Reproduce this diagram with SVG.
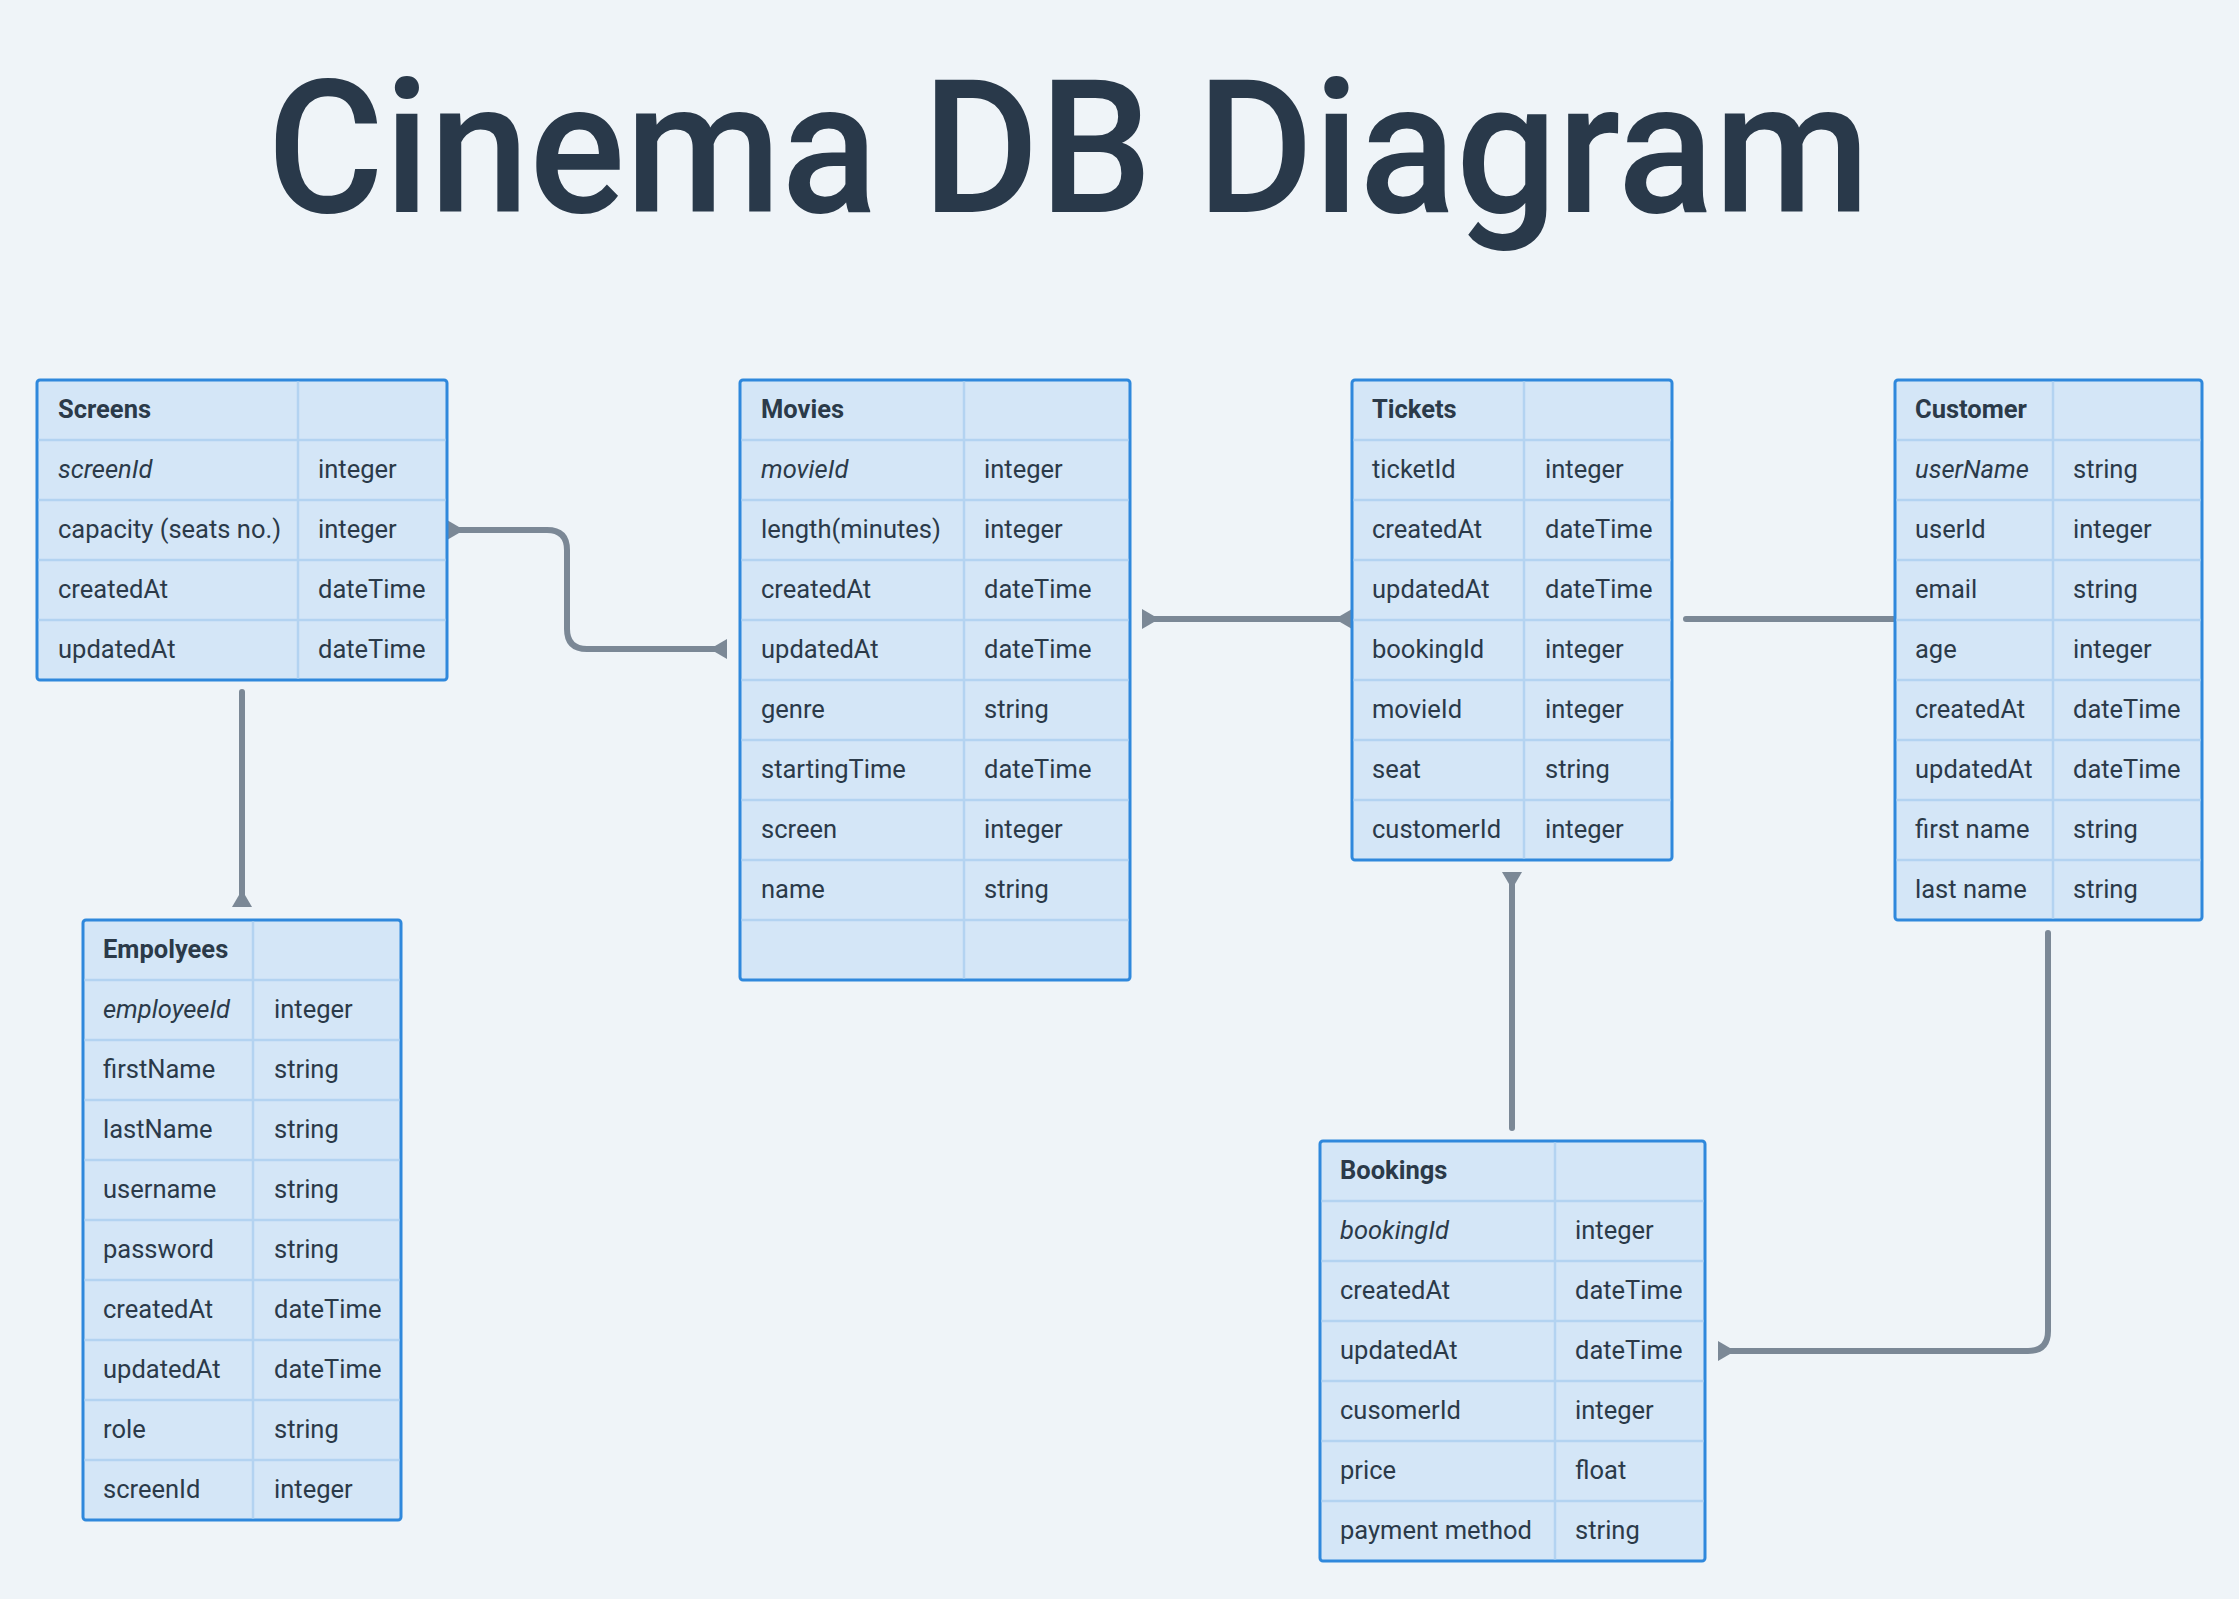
<svg xmlns="http://www.w3.org/2000/svg" width="2239" height="1599" viewBox="0 0 2239 1599">
<defs>
<style>
.bg{fill:#eff4f8}
.tbl{fill:#d4e6f7;stroke:#2f88dc;stroke-width:3}
.grid{stroke:#b3d3f1;stroke-width:2.5;fill:none}
.t{font-family:Roboto,"Liberation Sans",sans-serif;font-size:25.5px;fill:#2b3a49}
.h{font-weight:bold}
.i{font-style:italic}
.title{font-family:Roboto,"Liberation Sans",sans-serif;font-size:186px;font-weight:500;fill:#29394a}
.con{fill:none;stroke:#7b8896;stroke-width:6;stroke-linecap:round;stroke-linejoin:round}
</style>
<marker id="flare" markerUnits="userSpaceOnUse" viewBox="-14 -14 28 28" refX="0" refY="0" markerWidth="28" markerHeight="28" orient="auto-start-reverse" overflow="visible">
<path d="M3,-10 L3,10 L-9,3 L-9,-3 Z" fill="#7b8896"/>
</marker>
</defs>
<rect class="bg" x="0" y="0" width="2239" height="1599"/>
<text class="title" x="267" y="212" textLength="1603" lengthAdjust="spacingAndGlyphs">Cinema DB Diagram</text>

<g id="connectors">
<path class="con" d="M450,530 H547 Q567,530 567,550 V629 Q567,649 587,649 H724" marker-start="url(#flare)" marker-end="url(#flare)"/>
<path class="con" d="M1145,619 H1349" marker-start="url(#flare)" marker-end="url(#flare)"/>
<path class="con" d="M1686,619 H1896"/>
<path class="con" d="M242,692 V904" marker-end="url(#flare)"/>
<path class="con" d="M1512,875 V1128" marker-start="url(#flare)"/>
<path class="con" d="M2048,933 V1331 Q2048,1351 2028,1351 H1721" marker-end="url(#flare)"/>
</g>

<g id="screens">
<rect class="tbl" x="37" y="380" width="410" height="300" rx="3"/>
<path class="grid" d="M38.5,440 H445.5 M38.5,500 H445.5 M38.5,560 H445.5 M38.5,620 H445.5 M298,381.5 V678.5"/>
<text class="t h" x="58" y="418">Screens</text>
<text class="t i" x="58" y="478">screenId</text><text class="t" x="318" y="478">integer</text>
<text class="t" x="58" y="538">capacity (seats no.)</text><text class="t" x="318" y="538">integer</text>
<text class="t" x="58" y="598">createdAt</text><text class="t" x="318" y="598">dateTime</text>
<text class="t" x="58" y="658">updatedAt</text><text class="t" x="318" y="658">dateTime</text>
</g>

<g id="movies">
<rect class="tbl" x="740" y="380" width="390" height="600" rx="3"/>
<path class="grid" d="M741.5,440 H1128.5 M741.5,500 H1128.5 M741.5,560 H1128.5 M741.5,620 H1128.5 M741.5,680 H1128.5 M741.5,740 H1128.5 M741.5,800 H1128.5 M741.5,860 H1128.5 M741.5,920 H1128.5 M964,381.5 V978.5"/>
<text class="t h" x="761" y="418">Movies</text>
<text class="t i" x="761" y="478">movieId</text><text class="t" x="984" y="478">integer</text>
<text class="t" x="761" y="538">length(minutes)</text><text class="t" x="984" y="538">integer</text>
<text class="t" x="761" y="598">createdAt</text><text class="t" x="984" y="598">dateTime</text>
<text class="t" x="761" y="658">updatedAt</text><text class="t" x="984" y="658">dateTime</text>
<text class="t" x="761" y="718">genre</text><text class="t" x="984" y="718">string</text>
<text class="t" x="761" y="778">startingTime</text><text class="t" x="984" y="778">dateTime</text>
<text class="t" x="761" y="838">screen</text><text class="t" x="984" y="838">integer</text>
<text class="t" x="761" y="898">name</text><text class="t" x="984" y="898">string</text>
</g>

<g id="tickets">
<rect class="tbl" x="1352" y="380" width="320" height="480" rx="3"/>
<path class="grid" d="M1353.5,440 H1670.5 M1353.5,500 H1670.5 M1353.5,560 H1670.5 M1353.5,620 H1670.5 M1353.5,680 H1670.5 M1353.5,740 H1670.5 M1353.5,800 H1670.5 M1524,381.5 V858.5"/>
<text class="t h" x="1372" y="418">Tickets</text>
<text class="t" x="1372" y="478">ticketId</text><text class="t" x="1545" y="478">integer</text>
<text class="t" x="1372" y="538">createdAt</text><text class="t" x="1545" y="538">dateTime</text>
<text class="t" x="1372" y="598">updatedAt</text><text class="t" x="1545" y="598">dateTime</text>
<text class="t" x="1372" y="658">bookingId</text><text class="t" x="1545" y="658">integer</text>
<text class="t" x="1372" y="718">movieId</text><text class="t" x="1545" y="718">integer</text>
<text class="t" x="1372" y="778">seat</text><text class="t" x="1545" y="778">string</text>
<text class="t" x="1372" y="838">customerId</text><text class="t" x="1545" y="838">integer</text>
</g>

<g id="customer">
<rect class="tbl" x="1895" y="380" width="307" height="540" rx="3"/>
<path class="grid" d="M1896.5,440 H2200.5 M1896.5,500 H2200.5 M1896.5,560 H2200.5 M1896.5,620 H2200.5 M1896.5,680 H2200.5 M1896.5,740 H2200.5 M1896.5,800 H2200.5 M1896.5,860 H2200.5 M2053,381.5 V918.5"/>
<text class="t h" x="1915" y="418">Customer</text>
<text class="t i" x="1915" y="478">userName</text><text class="t" x="2073" y="478">string</text>
<text class="t" x="1915" y="538">userId</text><text class="t" x="2073" y="538">integer</text>
<text class="t" x="1915" y="598">email</text><text class="t" x="2073" y="598">string</text>
<text class="t" x="1915" y="658">age</text><text class="t" x="2073" y="658">integer</text>
<text class="t" x="1915" y="718">createdAt</text><text class="t" x="2073" y="718">dateTime</text>
<text class="t" x="1915" y="778">updatedAt</text><text class="t" x="2073" y="778">dateTime</text>
<text class="t" x="1915" y="838">first name</text><text class="t" x="2073" y="838">string</text>
<text class="t" x="1915" y="898">last name</text><text class="t" x="2073" y="898">string</text>
</g>

<g id="employees">
<rect class="tbl" x="83" y="920" width="318" height="600" rx="3"/>
<path class="grid" d="M84.5,980 H399.5 M84.5,1040 H399.5 M84.5,1100 H399.5 M84.5,1160 H399.5 M84.5,1220 H399.5 M84.5,1280 H399.5 M84.5,1340 H399.5 M84.5,1400 H399.5 M84.5,1460 H399.5 M253,921.5 V1518.5"/>
<text class="t h" x="103" y="958">Empolyees</text>
<text class="t i" x="103" y="1018">employeeId</text><text class="t" x="274" y="1018">integer</text>
<text class="t" x="103" y="1078">firstName</text><text class="t" x="274" y="1078">string</text>
<text class="t" x="103" y="1138">lastName</text><text class="t" x="274" y="1138">string</text>
<text class="t" x="103" y="1198">username</text><text class="t" x="274" y="1198">string</text>
<text class="t" x="103" y="1258">password</text><text class="t" x="274" y="1258">string</text>
<text class="t" x="103" y="1318">createdAt</text><text class="t" x="274" y="1318">dateTime</text>
<text class="t" x="103" y="1378">updatedAt</text><text class="t" x="274" y="1378">dateTime</text>
<text class="t" x="103" y="1438">role</text><text class="t" x="274" y="1438">string</text>
<text class="t" x="103" y="1498">screenId</text><text class="t" x="274" y="1498">integer</text>
</g>

<g id="bookings">
<rect class="tbl" x="1320" y="1141" width="385" height="420" rx="3"/>
<path class="grid" d="M1321.5,1201 H1703.5 M1321.5,1261 H1703.5 M1321.5,1321 H1703.5 M1321.5,1381 H1703.5 M1321.5,1441 H1703.5 M1321.5,1501 H1703.5 M1555,1142.5 V1559.5"/>
<text class="t h" x="1340" y="1179">Bookings</text>
<text class="t i" x="1340" y="1239">bookingId</text><text class="t" x="1575" y="1239">integer</text>
<text class="t" x="1340" y="1299">createdAt</text><text class="t" x="1575" y="1299">dateTime</text>
<text class="t" x="1340" y="1359">updatedAt</text><text class="t" x="1575" y="1359">dateTime</text>
<text class="t" x="1340" y="1419">cusomerId</text><text class="t" x="1575" y="1419">integer</text>
<text class="t" x="1340" y="1479">price</text><text class="t" x="1575" y="1479">float</text>
<text class="t" x="1340" y="1539">payment method</text><text class="t" x="1575" y="1539">string</text>
</g>
</svg>
